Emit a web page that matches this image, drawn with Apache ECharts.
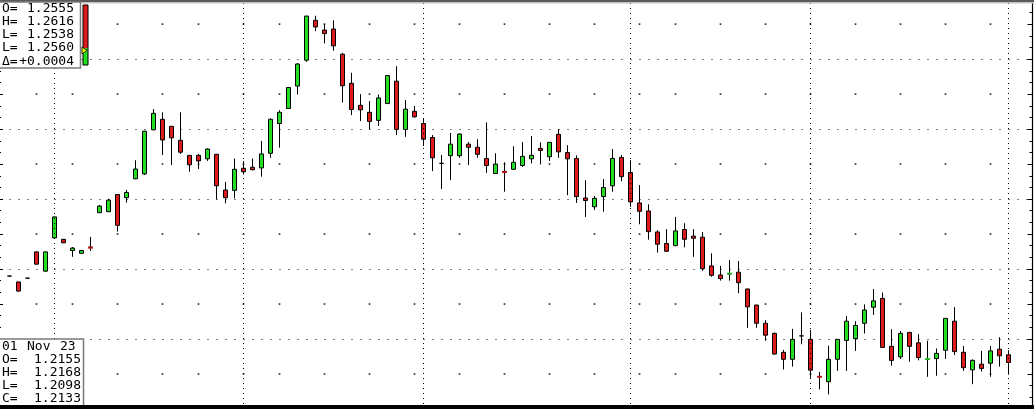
<!DOCTYPE html>
<html>
<head>
<meta charset="utf-8">
<script src="https://cdn.jsdelivr.net/npm/echarts@6/dist/echarts.min.js"></script>
<style>
html,body{margin:0;padding:0;background:#fff;}
#chart{width:1034px;height:409px;}
</style>
</head>
<body>
<div id="chart"></div>
<script>
const categories = [
'2023-05-24','2023-05-25','2023-05-26','2023-05-30','2023-05-31',
'2023-06-01','2023-06-02','2023-06-05','2023-06-06','2023-06-07','2023-06-08','2023-06-09','2023-06-12','2023-06-13','2023-06-14','2023-06-15','2023-06-16','2023-06-20','2023-06-21','2023-06-22','2023-06-23','2023-06-26','2023-06-27','2023-06-28','2023-06-29','2023-06-30',
'2023-07-03','2023-07-05','2023-07-06','2023-07-07','2023-07-10','2023-07-11','2023-07-12','2023-07-13','2023-07-14','2023-07-17','2023-07-18','2023-07-19','2023-07-20','2023-07-21','2023-07-24','2023-07-25','2023-07-26','2023-07-27','2023-07-28','2023-07-31',
'2023-08-01','2023-08-02','2023-08-03','2023-08-04','2023-08-07','2023-08-08','2023-08-09','2023-08-10','2023-08-11','2023-08-14','2023-08-15','2023-08-16','2023-08-17','2023-08-18','2023-08-21','2023-08-22','2023-08-23','2023-08-24','2023-08-25','2023-08-28','2023-08-29','2023-08-30','2023-08-31',
'2023-09-01','2023-09-05','2023-09-06','2023-09-07','2023-09-08','2023-09-11','2023-09-12','2023-09-13','2023-09-14','2023-09-15','2023-09-18','2023-09-19','2023-09-20','2023-09-21','2023-09-22','2023-09-25','2023-09-26','2023-09-27','2023-09-28','2023-09-29',
'2023-10-02','2023-10-03','2023-10-04','2023-10-05','2023-10-06','2023-10-09','2023-10-10','2023-10-11','2023-10-12','2023-10-13','2023-10-16','2023-10-17','2023-10-18','2023-10-19','2023-10-20','2023-10-23','2023-10-24','2023-10-25','2023-10-26','2023-10-27','2023-10-30','2023-10-31',
'2023-11-01','2023-11-02','2023-11-03'
];

const opens = [
1.2380,1.2363,1.2374,1.2449,1.2394,
1.2489,1.2485,1.2453,1.2445,1.2463,1.2561,1.2564,1.2613,1.2604,1.2658,1.2672,1.2798,1.2828,1.2808,1.2768,1.2725,1.2725,1.2715,1.2728,1.2626,1.2625,
1.2688,1.2691,1.2689,1.2731,1.2816,1.2859,1.2923,1.2997,1.3111,1.3083,1.3086,1.3014,1.2931,1.2868,1.2848,1.2825,1.2873,1.2937,1.2799,1.2851,
1.2816,1.2776,1.2702,1.2724,1.2724,1.2757,1.2748,1.2716,1.2673,1.2679,1.2685,1.2696,1.2715,1.2745,1.2721,1.2785,1.2733,1.2716,1.2603,1.2578,1.2607,1.2638,1.2719,
1.2676,1.2589,1.2566,1.2506,1.2473,1.2467,1.2513,1.2494,1.2491,1.2409,1.2383,1.2386,1.2391,1.2343,1.2297,1.2245,1.2216,1.2162,1.2142,1.2209,
1.2199,1.2093,1.2078,1.2142,1.2196,1.2201,1.2245,1.2291,1.2316,1.2179,1.2149,1.2219,1.2189,1.2142,1.2144,1.2168,1.2251,1.2162,1.2112,1.2128,1.2131,1.2171,
1.2155
];
const closes = [
1.2380,1.2337,1.2374,1.2414,1.2449,
1.2549,1.2475,1.2460,1.2453,1.2461,1.2580,1.2597,1.2525,1.2619,1.2686,1.2794,1.2845,1.2769,1.2775,1.2734,1.2698,1.2709,1.2743,1.2638,1.2604,1.2685,
1.2678,1.2684,1.2729,1.2828,1.2848,1.2919,1.2986,1.3123,1.3092,1.3073,1.3038,1.2924,1.2856,1.2855,1.2822,1.2889,1.2953,1.2799,1.2857,1.2835,
1.2771,1.2718,1.2702,1.2757,1.2786,1.2748,1.2728,1.2696,1.2700,1.2677,1.2705,1.2722,1.2725,1.2739,1.2762,1.2735,1.2715,1.2607,1.2596,1.2602,1.2633,1.2716,1.2664,
1.2592,1.2565,1.2507,1.2471,1.2451,1.2509,1.2485,1.2488,1.2401,1.2382,1.2373,1.2387,1.2361,1.2292,1.2245,1.2211,1.2157,1.2142,1.2199,1.2209,
1.2111,1.2092,1.2142,1.2199,1.2251,1.2239,1.2283,1.2309,1.2176,1.2139,1.2216,1.2179,1.2147,1.2143,1.2159,1.2259,1.2164,1.2118,1.2139,1.2116,1.2166,1.2152,
1.2133
];
const lows = [
1.2380,1.2336,1.2374,1.2413,1.2393,
1.2488,1.2474,1.2435,1.2444,1.2452,1.2560,1.2563,1.2507,1.2590,1.2657,1.2669,1.2797,1.2726,1.2697,1.2729,1.2678,1.2686,1.2709,1.2599,1.2588,1.2602,
1.2671,1.2682,1.2664,1.2718,1.2747,1.2858,1.2899,1.2992,1.3080,1.3045,1.3024,1.2876,1.2840,1.2823,1.2799,1.2809,1.2872,1.2783,1.2778,1.2833,
1.2752,1.2680,1.2629,1.2654,1.2718,1.2697,1.2718,1.2675,1.2672,1.2621,1.2684,1.2692,1.2702,1.2699,1.2709,1.2718,1.2611,1.2589,1.2549,1.2569,1.2564,1.2621,1.2651,
1.2578,1.2528,1.2484,1.2447,1.2449,1.2465,1.2462,1.2435,1.2395,1.2378,1.2367,1.2367,1.2331,1.2232,1.2232,1.2195,1.2156,1.2113,1.2121,1.2185,
1.2089,1.2056,1.2042,1.2109,1.2109,1.2166,1.2216,1.2269,1.2175,1.2124,1.2143,1.2135,1.2139,1.2092,1.2095,1.2143,1.2154,1.2109,1.2071,1.2107,1.2092,1.2121,
1.2098
];
const highs = [
1.2380,1.2364,1.2374,1.2450,1.2450,
1.2550,1.2486,1.2463,1.2454,1.2492,1.2583,1.2601,1.2614,1.2626,1.2711,1.2795,1.2857,1.2848,1.2809,1.2848,1.2726,1.2729,1.2745,1.2729,1.2649,1.2716,
1.2709,1.2716,1.2766,1.2831,1.2854,1.2920,1.2989,1.3124,1.3124,1.3100,1.3111,1.3018,1.2961,1.2900,1.2880,1.2899,1.2955,1.2980,1.2883,1.2866,
1.2829,1.2783,1.2726,1.2789,1.2787,1.2763,1.2771,1.2819,1.2731,1.2705,1.2751,1.2763,1.2780,1.2762,1.2763,1.2800,1.2754,1.2725,1.2654,1.2609,1.2657,1.2743,1.2726,
1.2711,1.2640,1.2585,1.2511,1.2514,1.2549,1.2531,1.2514,1.2506,1.2445,1.2409,1.2426,1.2423,1.2344,1.2298,1.2254,1.2219,1.2169,1.2229,1.2276,
1.2226,1.2106,1.2181,1.2200,1.2266,1.2251,1.2299,1.2343,1.2333,1.2228,1.2223,1.2220,1.2214,1.2195,1.2173,1.2260,1.2291,1.2180,1.2142,1.2166,1.2180,1.2205,
1.2168
];

const infoTopLabels = ['O=', 'H=', 'L=', 'L=', 'Δ='];
const infoTopValues = ['1.2555', '1.2616', '1.2538', '1.2560', '+0.0004'];
const infoBottomDate = ['01', 'Nov', '23'];
const infoBottomLabels = ['O=', 'H=', 'L=', 'C='];
const infoBottomValues = ['1.2155', '1.2168', '1.2098', '1.2133'];

const GREEN = '#22dd22', RED = '#dd1a1a';
const yMin = 1.20, yMax = 1.3169, majorStep = 0.02, minorStep = 0.01;

// candlestick data: [open, close, low, high]
const candleData = opens.map((o, i) => [o, closes[i], lows[i], highs[i]]);

// near-flat bars: coloured dash on top of the black outline
const dojiMarks = [];
opens.forEach((o, i) => {
  const c = closes[i];
  if (o !== c && Math.abs(o - c) <= 0.00021) {
    dojiMarks.push({ value: [i, c], itemStyle: { color: c > o ? GREEN : RED } });
  }
});

// month starts (vertical dotted lines) and week starts (sparse dot lattice)
const monthStarts = [], weekStarts = [];
for (let i = 1; i < categories.length; i++) {
  const d = new Date(categories[i] + 'T00:00:00Z'), p = new Date(categories[i - 1] + 'T00:00:00Z');
  if (d.getUTCMonth() !== p.getUTCMonth()) monthStarts.push(categories[i]);
  if (i < opens.length && d.getUTCDay() <= p.getUTCDay()) weekStarts.push(i);
}
const minorLevels = [];
for (let k = 0; ; k++) {
  const v = +(yMin + minorStep + k * majorStep).toFixed(4);
  if (v >= yMax) break;
  minorLevels.push(v);
}
const lattice = [];
weekStarts.forEach(i => minorLevels.forEach(v => lattice.push([i, v])));

const chart = echarts.init(document.getElementById('chart'), null, { renderer: 'canvas' });

const FONT = '"DejaVu Sans Mono", monospace';
const graphics = [];
// top border
graphics.push({ type: 'rect', shape: { x: 0, y: 0, width: 1034, height: 2 }, style: { fill: '#5a5a5a' }, z: 100 });
graphics.push({ type: 'rect', shape: { x: 0, y: 2, width: 1034, height: 1.5 }, style: { fill: '#c4c4c4' }, z: 100 });
// top-left info box
graphics.push({ type: 'rect', shape: { x: -2, y: 2, width: 82.5, height: 66 }, style: { fill: '#fff', stroke: '#7a7a7a', lineWidth: 1.5 }, z: 101 });
infoTopLabels.forEach((t, k) => {
  const y = 8.5 + k * 13.2;
  graphics.push({ type: 'text', x: 2, y: y, style: { text: t, font: '13px ' + FONT, fill: '#000', textAlign: 'left', textVerticalAlign: 'middle' }, z: 102 });
  graphics.push({ type: 'text', x: 74, y: y, style: { text: infoTopValues[k], font: '13px ' + FONT, fill: '#000', textAlign: 'right', textVerticalAlign: 'middle' }, z: 102 });
});
// mini bar widget built from the top box values (H, L, O, last)
(function () {
  const o = parseFloat(infoTopValues[0]), h = parseFloat(infoTopValues[1]), l = parseFloat(infoTopValues[2]), c = parseFloat(infoTopValues[3]);
  const top = 5, bot = 65, yOf = v => top + (h - v) / (h - l) * (bot - top);
  graphics.push({ type: 'rect', shape: { x: 83, y: top, width: 5, height: yOf(c) - top }, style: { fill: RED }, z: 102 });
  graphics.push({ type: 'rect', shape: { x: 83, y: yOf(c), width: 5, height: bot - yOf(c) }, style: { fill: GREEN }, z: 102 });
  graphics.push({ type: 'rect', shape: { x: 83, y: top, width: 5, height: bot - top }, style: { fill: 'none', stroke: '#000', lineWidth: 1 }, z: 103 });
  const ty = yOf(o) - 1.5;
  graphics.push({ type: 'polygon', shape: { points: [[82, ty - 3.5], [87, ty], [82, ty + 3.5]] }, style: { fill: '#f2f200', stroke: '#000', lineWidth: 0.8 }, z: 104 });
})();
// bottom-left info box
graphics.push({ type: 'rect', shape: { x: -2, y: 339, width: 85.5, height: 72 }, style: { fill: '#fff', stroke: '#7a7a7a', lineWidth: 1.5 }, z: 101 });
[2, 27, 60].forEach((x, k) => {
  graphics.push({ type: 'text', x: x, y: 346.5, style: { text: infoBottomDate[k], font: '13px ' + FONT, fill: '#000', textAlign: 'left', textVerticalAlign: 'middle' }, z: 102 });
});
infoBottomLabels.forEach((t, k) => {
  const y = 360 + k * 13;
  graphics.push({ type: 'text', x: 2, y: y, style: { text: t, font: '13px ' + FONT, fill: '#000', textAlign: 'left', textVerticalAlign: 'middle' }, z: 102 });
  graphics.push({ type: 'text', x: 81, y: y, style: { text: infoBottomValues[k], font: '13px ' + FONT, fill: '#000', textAlign: 'right', textVerticalAlign: 'middle' }, z: 102 });
});
// bottom border
graphics.push({ type: 'rect', shape: { x: 0, y: 405, width: 1034, height: 4 }, style: { fill: '#000' }, z: 105 });

const tickAxis = (pos, offset) => ({
  type: 'value', min: yMin, max: yMax, interval: minorStep, position: pos, offset: offset,
  axisLine: { show: true, onZero: false, lineStyle: { color: '#000', width: 1.2 } },
  axisTick: { show: true, inside: true, length: 5, lineStyle: { color: '#000', width: 1 } },
  minorTick: { show: true, splitNumber: 3, length: 3, lineStyle: { color: '#000', width: 1 } },
  axisLabel: { show: false }, splitLine: { show: false }, minorSplitLine: { show: false }
});

chart.setOption({
  animation: false,
  backgroundColor: '#fff',
  grid: { left: 5, top: 0, width: 1026, height: 409, containLabel: false },
  xAxis: {
    type: 'category', data: categories, boundaryGap: true,
    axisLine: { show: false }, axisTick: { show: false }, axisLabel: { show: false }, splitLine: { show: false }
  },
  yAxis: [
    {
      type: 'value', min: yMin, max: yMax, interval: majorStep, position: 'right',
      axisLine: { show: false }, axisTick: { show: false }, axisLabel: { show: false },
      splitLine: { show: true, lineStyle: { color: '#000', width: 1, type: [1, 8], dashOffset: 4.5 } }
    },
    tickAxis('right', 1.5),
    tickAxis('left', 7)
  ],
  graphic: graphics,
  series: [
    {
      type: 'scatter', yAxisIndex: 0, z: 1, silent: true,
      symbol: 'rect', symbolSize: 1.7, itemStyle: { color: '#000' },
      data: lattice,
      markLine: {
        silent: true, symbol: 'none', label: { show: false },
        lineStyle: { color: '#000', width: 1, type: [1, 4] },
        data: monthStarts.map(m => ({ xAxis: m }))
      }
    },
    {
      type: 'candlestick', yAxisIndex: 0, z: 3, barWidth: 4,
      itemStyle: { color: GREEN, color0: RED, borderColor: '#000', borderColor0: '#000', borderColorDoji: '#000', borderWidth: 1 },
      data: candleData
    },
    {
      type: 'scatter', yAxisIndex: 0, z: 4, silent: true,
      symbol: 'rect', symbolSize: [5, 2],
      data: dojiMarks
    }
  ]
});
</script>
</body>
</html>
